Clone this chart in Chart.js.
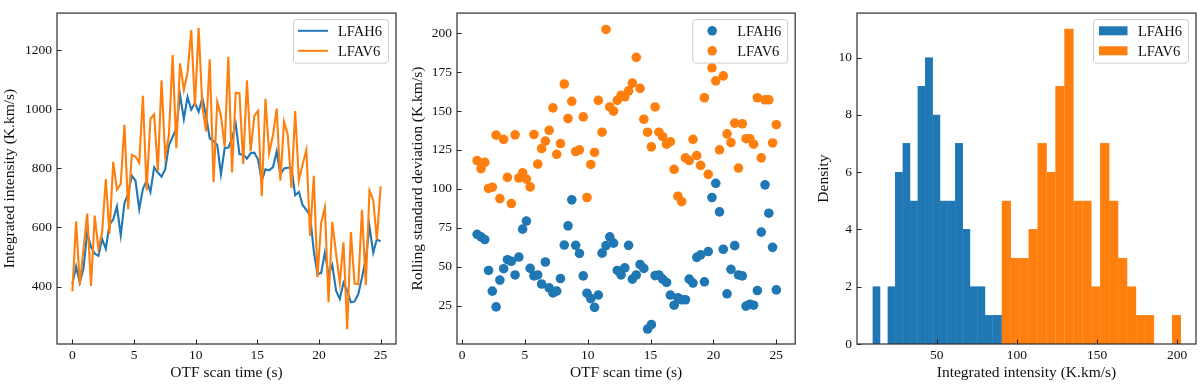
<!DOCTYPE html>
<html>
<head>
<meta charset="utf-8">
<script src="https://cdn.jsdelivr.net/npm/chart.js@4.4.1/dist/chart.umd.min.js"></script>
<style>
  html, body { margin: 0; padding: 0; background: #fff; }
  body { width: 1200px; height: 386px; position: relative; overflow: hidden; }
  canvas { position: absolute; top: 0; }
</style>
</head>
<body>
<canvas id="grafIntensidade" width="400" height="386" style="left:0px"></canvas>
<canvas id="grafDesvio" width="400" height="386" style="left:400px"></canvas>
<canvas id="grafHist" width="400" height="386" style="left:800px"></canvas>
<script>
// scan time of each OTF sample (s)
const scanTime = [0, 0.30, 0.60, 0.90, 1.20, 1.51, 1.81, 2.11, 2.41, 2.71,
  3.01, 3.31, 3.61, 3.92, 4.22, 4.52, 4.82, 5.12, 5.42, 5.72,
  6.02, 6.33, 6.63, 6.93, 7.23, 7.53, 7.83, 8.13, 8.43, 8.73,
  9.04, 9.34, 9.64, 9.94, 10.24, 10.54, 10.84, 11.14, 11.45, 11.75,
  12.05, 12.35, 12.65, 12.95, 13.25, 13.55, 13.86, 14.16, 14.46, 14.76,
  15.06, 15.36, 15.66, 15.96, 16.27, 16.57, 16.87, 17.17, 17.47, 17.77,
  18.07, 18.37, 18.67, 18.98, 19.28, 19.58, 19.88, 20.18, 20.48, 20.78,
  21.08, 21.39, 21.69, 21.99, 22.29, 22.59, 22.89, 23.19, 23.49, 23.80,
  24.10, 24.40, 24.70, 25.00];

// integrated intensity (K.km/s)
const intensidadeH = [410, 468, 413, 462, 583, 534, 512, 504, 561, 528,
  610, 627, 671, 574, 682, 714, 775, 758, 662, 731,
  758, 720, 804, 786, 772, 797, 879, 906, 934, 1049,
  967, 1041, 999, 1021, 991, 1038, 978, 901, 892, 879,
  780, 868, 870, 901, 950, 848, 846, 833, 851, 853,
  830, 758, 797, 793, 804, 857, 780, 800, 802, 802,
  709, 720, 676, 660, 640, 520, 443, 446, 515, 440,
  473, 386, 358, 413, 386, 347, 350, 375, 430, 495,
  603, 515, 560, 553];
const intensidadeV = [384, 621, 408, 528, 647, 402, 640, 528, 583, 764,
  578, 822, 728, 747, 947, 662, 846, 840, 819, 1045,
  725, 967, 983, 791, 1098, 841, 912, 1183, 868, 1155,
  1065, 1125, 1268, 1010, 1275, 1010, 925, 1169, 753, 1025,
  978, 873, 1177, 786, 1056, 1054, 815, 1098, 857, 978,
  994, 706, 1035, 851, 912, 1002, 758, 958, 914, 734,
  994, 758, 813, 862, 572, 775, 432, 616, 668, 347,
  619, 512, 413, 550, 256, 585, 410, 408, 660, 405,
  725, 693, 559, 739];

// rolling standard deviation (K.km/s), starts after the window fills
const tempoDesvio = scanTime.slice(4);
const desvioH = [70.9, 69.2, 67.5, 47.7, 34.4, 24.3, 41.5, 48.8, 54.6, 53.6,
  44.8, 56.3, 74.2, 79.4, 49.0, 44.2, 44.8, 39.0, 53.1, 36.5,
  33.3, 34.4, 42.5, 64.0, 76.3, 93.0, 63.8, 58.6, 44.2, 33.1,
  29.6, 24.0, 31.9, 58.8, 63.6, 69.2, 65.2, 47.7, 44.8, 49.4,
  63.8, 42.1, 44.8, 51.5, 49.0, 10.1, 12.9, 44.4, 44.8, 42.1,
  40.0, 31.9, 25.4, 30.2, 28.9, 28.9, 42.1, 39.6, 56.1, 57.7,
  40.4, 59.8, 94.5, 103.6, 85.3, 61.3, 32.7, 48.4, 63.6, 44.8,
  44.2, 24.8, 26.0, 25.4, 34.8, 72.3, 102.6, 84.4, 62.5, 35.2];
const desvioV = [118.2, 113.0, 117.0, 100.3, 101.1, 134.5, 93.8, 131.8, 107.4, 90.6,
  134.7, 107.0, 110.3, 106.3, 101.3, 134.9, 115.9, 125.9, 130.7, 137.6,
  152.0, 122.2, 129.1, 167.3, 145.1, 156.2, 123.9, 125.1, 146.2, 94.5,
  115.7, 123.4, 156.8, 136.4, 202.3, 152.6, 149.9, 156.8, 160.0, 159.1,
  162.9, 167.9, 184.4, 164.5, 144.7, 136.4, 127.0, 152.6, 136.4, 133.5,
  128.7, 130.3, 112.6, 95.3, 91.8, 119.9, 118.2, 131.8, 121.4, 115.1,
  158.5, 109.3, 177.7, 169.3, 125.1, 172.5, 135.3, 129.7, 142.2, 113.4,
  141.8, 132.2, 132.2, 128.7, 158.5, 119.9, 157.2, 157.2, 129.5, 141.2];

// histogram, 20 bins over each series' range
const faixaH = [10.1, 103.6];
const contagemH = [2, 0, 2, 6, 7, 5, 9, 10, 8, 5, 5, 7, 4, 2, 2, 1, 1, 1, 1, 2];
const faixaV = [90.6, 202.3];
const contagemV = [5, 3, 3, 4, 7, 6, 9, 11, 5, 5, 2, 7, 5, 3, 2, 1, 1, 0, 0, 1];

const ticksTempo = [0, 5, 10, 15, 20, 25];
const ticksIntensidade = [400, 600, 800, 1000, 1200];
const ticksDesvio = [25, 50, 75, 100, 125, 150, 175, 200];
const ticksHistX = [50, 100, 150, 200];
const ticksHistY = [0, 2, 4, 6, 8, 10];

const azul = '#1f77b4';
const laranja = '#ff7f0e';
const serif = "'Liberation Serif', 'DejaVu Serif', serif";

Chart.defaults.font.family = serif;
Chart.defaults.color = '#111';

function centrosBins(faixa, n) {
  const w = (faixa[1] - faixa[0]) / n;
  const out = [];
  for (let k = 0; k < n; k++) out.push(faixa[0] + w * (k + 0.5));
  return out;
}

function eixo(titulo, min, max, valores, ehX, padTitulo) {
  return {
    type: 'linear', min, max, offset: false,
    grid: { display: false, drawTicks: false, offset: false },
    border: { display: false },
    ticks: { padding: ehX ? 3 : 5, font: { size: 13.5 }, color: '#111', autoSkip: false, maxRotation: 0,
      callback: v => String(v) },
    afterBuildTicks: s => { s.ticks = valores.map(v => ({ value: v })); },
    afterFit: s => { if (ehX) s.height = 42; else s.width = 57; },
    title: { display: true, text: titulo, color: '#111', font: { size: 15.5 },
      padding: ehX ? { top: 0, bottom: 3.4 } : { top: padTitulo, bottom: 0 } }
  };
}

function desenhaLegenda(chart, tipo) {
  const { ctx, chartArea: a } = chart;
  const x0 = a.right - 102.5, y0 = a.top + 6.5;
  ctx.fillStyle = 'rgba(255,255,255,0.8)';
  ctx.strokeStyle = '#cccccc';
  ctx.lineWidth = 1;
  ctx.beginPath();
  if (ctx.roundRect) ctx.roundRect(x0, y0, 95, 43.5, 3); else ctx.rect(x0, y0, 95, 43.5);
  ctx.fill();
  ctx.stroke();
  chart.data.datasets.forEach((ds, i) => {
    const cy = a.top + 17.7 + 20 * i;
    if (tipo === 'line') {
      ctx.strokeStyle = ds.borderColor;
      ctx.lineWidth = 2;
      ctx.beginPath(); ctx.moveTo(a.right - 98, cy); ctx.lineTo(a.right - 68, cy); ctx.stroke();
    } else if (tipo === 'point') {
      ctx.fillStyle = ds.backgroundColor;
      ctx.beginPath(); ctx.arc(a.right - 83, cy, 4.8, 0, Math.PI * 2); ctx.fill();
    } else {
      ctx.fillStyle = ds.legendColor;
      ctx.fillRect(a.right - 97, cy - 4.5, 28.5, 9);
    }
    ctx.fillStyle = '#111';
    ctx.font = '14.5px ' + serif;
    ctx.textBaseline = 'middle';
    ctx.textAlign = 'left';
    ctx.fillText(ds.label, a.right - 58, cy + 1);
  });
}

// frame, inward ticks and legend like the original figure
const moldura = {
  id: 'moldura',
  afterDatasetsDraw(chart, args, opts) {
    const { ctx, chartArea: a, scales: { x, y } } = chart;
    ctx.save();
    ctx.strokeStyle = '#222';
    ctx.lineWidth = 1;
    x.ticks.forEach(t => {
      const px = Math.round(x.getPixelForValue(t.value)) + 0.5;
      ctx.beginPath(); ctx.moveTo(px, a.bottom); ctx.lineTo(px, a.bottom - 4.5); ctx.stroke();
    });
    y.ticks.forEach(t => {
      const py = Math.round(y.getPixelForValue(t.value)) + 0.5;
      ctx.beginPath(); ctx.moveTo(a.left, py); ctx.lineTo(a.left + 4.5, py); ctx.stroke();
    });
    ctx.strokeStyle = '#333';
    ctx.lineWidth = 1.25;
    ctx.strokeRect(a.left, a.top, a.width, a.height);
    desenhaLegenda(chart, opts.tipo);
    ctx.restore();
  }
};

function opcoesBase(tipo, escalas) {
  return {
    responsive: false,
    animation: false,
    events: [],
    layout: { padding: { left: 0, right: 4, top: 5, bottom: 0 } },
    plugins: { legend: { display: false }, tooltip: { enabled: false }, moldura: { tipo } },
    scales: escalas
  };
}

// painel 1: integrated intensity vs time
new Chart(document.getElementById('grafIntensidade'), {
  type: 'line',
  data: {
    datasets: [
      { label: 'LFAH6', data: scanTime.map((t, i) => ({ x: t, y: intensidadeH[i] })),
        borderColor: azul, backgroundColor: azul, borderWidth: 2.1, pointRadius: 0, tension: 0, order: 2 },
      { label: 'LFAV6', data: scanTime.map((t, i) => ({ x: t, y: intensidadeV[i] })),
        borderColor: laranja, backgroundColor: laranja, borderWidth: 2.1, pointRadius: 0, tension: 0, order: 1 }
    ]
  },
  options: opcoesBase('line', {
    x: eixo('OTF scan time (s)', -1.25, 26.25, ticksTempo, true),
    y: eixo('Integrated intensity (K.km/s)', 206, 1325, ticksIntensidade, false, 0.7)
  }),
  plugins: [moldura]
});

// painel 2: rolling standard deviation
new Chart(document.getElementById('grafDesvio'), {
  type: 'scatter',
  data: {
    datasets: [
      { label: 'LFAH6', data: tempoDesvio.map((t, i) => ({ x: t, y: desvioH[i] })),
        backgroundColor: azul, borderWidth: 0, pointRadius: 4.8, order: 2 },
      { label: 'LFAV6', data: tempoDesvio.map((t, i) => ({ x: t, y: desvioV[i] })),
        backgroundColor: laranja, borderWidth: 0, pointRadius: 4.8, order: 1 }
    ]
  },
  options: opcoesBase('point', {
    x: eixo('OTF scan time (s)', -0.4, 26.5, ticksTempo, true),
    y: eixo('Rolling standard deviation (K.km/s)', 0.5, 212.8, ticksDesvio, false, 8.2)
  }),
  plugins: [moldura]
});

// painel 3: histograms
const centrosH = centrosBins(faixaH, contagemH.length);
const centrosV = centrosBins(faixaV, contagemV.length);
const escalasHist = {
  x: eixo('Integrated intensity (K.km/s)', 0.3, 211.7, ticksHistX, true),
  y: eixo('Density', 0, 11.55, ticksHistY, false, 14.7)
};
escalasHist.x.stacked = true;
escalasHist.y.stacked = true;
new Chart(document.getElementById('grafHist'), {
  type: 'bar',
  data: {
    datasets: [
      { label: 'LFAH6', data: centrosH.map((c, i) => ({ x: c, y: contagemH[i] || null })),
        backgroundColor: azul, legendColor: azul, borderColor: '#3d8ac0', borderWidth: 0.5,
        borderSkipped: 'start', barThickness: 'flex', categoryPercentage: 1, barPercentage: 1, stack: 'h', order: 2 },
      { label: 'LFAV6', data: centrosV.map((c, i) => ({ x: c, y: contagemV[i] || null })),
        backgroundColor: laranja, legendColor: laranja, borderColor: '#ff9334', borderWidth: 0.5,
        borderSkipped: 'start', barThickness: 'flex', categoryPercentage: 1, barPercentage: 1, stack: 'h', order: 1 }
    ]
  },
  options: opcoesBase('patch', escalasHist),
  plugins: [moldura]
});
</script>
</body>
</html>
